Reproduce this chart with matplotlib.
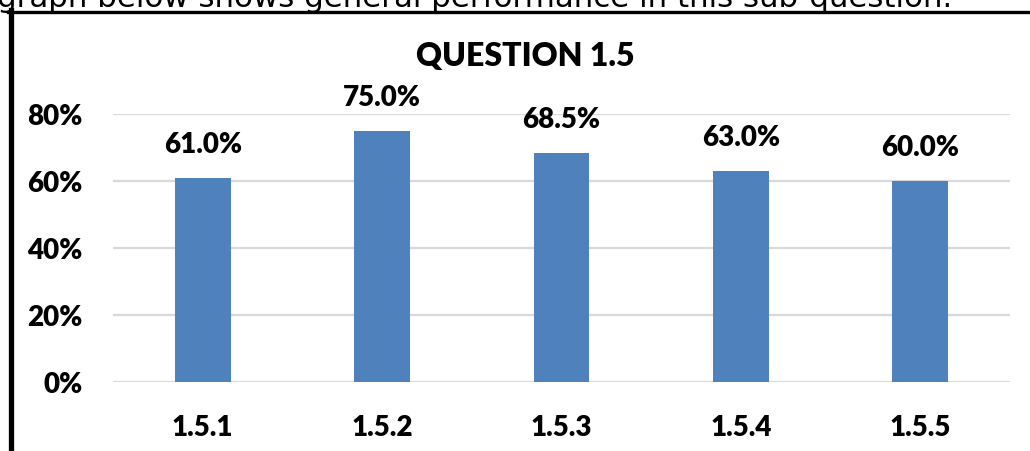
import matplotlib.pyplot as plt
from matplotlib.lines import Line2D
from matplotlib.ticker import FuncFormatter

plt.rcParams['font.family'] = ['Lato', 'DejaVu Sans']

# Performance per sub-question
questions = ["1.5.1", "1.5.2", "1.5.3", "1.5.4", "1.5.5"]
scores = [61.0, 75.0, 68.5, 63.0, 60.0]
y_ticks = [0, 20, 40, 60, 80]

intro = "graph below shows general performance in this sub-question."
weight = "heavy"

fig = plt.figure(figsize=(10.3, 4.52), dpi=100)
W, H = 1030, 452

# sentence of the surrounding document, cut off by the page top
txt = fig.text(-3 / W, 1 - 7 / H, intro, fontsize=20, family="DejaVu Sans",
               ha="left", va="baseline", color="black")
fig.canvas.draw()
w = txt.get_window_extent().width
txt.set_fontsize(20 * 956 / w)

# frame lines of the document box
fig.add_artist(Line2D([8 / W, 1], [1 - 12.5 / H, 1 - 12.5 / H], color="black", lw=2.4))
fig.add_artist(Line2D([10.5 / W, 10.5 / W], [0, 1 - 11 / H], color="black", lw=3.8))

ax = fig.add_axes([113 / W, 69 / H, 897 / W, 268 / H])
bars = ax.bar(range(len(questions)), scores, width=0.312, color="#4F81BD", zorder=3)
ax.bar_label(bars, fmt="{:.1f}%", padding=15, fontsize=20, fontweight=weight)

ax.set_xlim(-0.5, len(questions) - 0.5)
ax.set_ylim(0, 80)
ax.set_yticks(y_ticks)
ax.yaxis.set_major_formatter(FuncFormatter(lambda v, p: f"{v:.0f}%"))
ax.set_xticks(range(len(questions)))
ax.set_xticklabels(questions)
ax.tick_params(axis="both", length=0, labelsize=20)
ax.tick_params(axis="y", pad=22)
ax.tick_params(axis="x", pad=23)
for lab in ax.get_xticklabels() + ax.get_yticklabels():
    lab.set_fontweight(weight)

ax.grid(axis="y", color="#D9D9D9", lw=1.6, zorder=0)
for s in ax.spines.values():
    s.set_visible(False)

fig.text(525 / W, 1 - 56 / H, "QUESTION 1.5", fontsize=23, fontweight=weight,
         ha="center", va="center")

fig.savefig("out.png", dpi=100)
